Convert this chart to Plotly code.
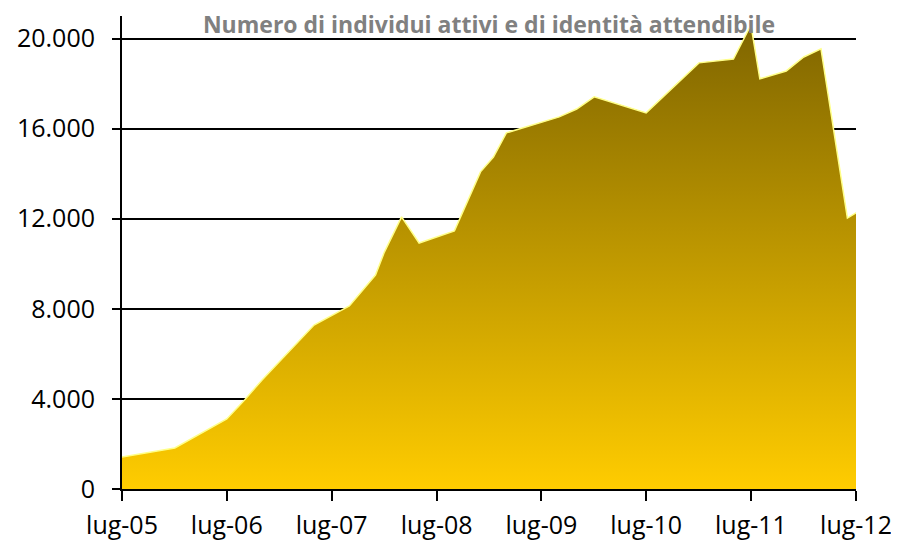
import plotly.graph_objects as go

dates = ["2005-07-01", "2006-01-01", "2006-07-01", "2006-09-01", "2006-11-01",
         "2007-05-01", "2007-09-01", "2007-12-01", "2008-01-01", "2008-03-01",
         "2008-05-01", "2008-09-01", "2008-12-01", "2009-01-15", "2009-03-01",
         "2009-09-01", "2009-11-01", "2010-01-01", "2010-07-01", "2011-01-01",
         "2011-05-01", "2011-07-01", "2011-08-01", "2011-11-01", "2012-01-01",
         "2012-03-01", "2012-06-01", "2012-07-01"]
individui = [1420, 1820, 3110, 3950, 4840,
             7280, 8130, 9500, 10520, 12080,
             10920, 11460, 14080, 14740, 15810,
             16520, 16870, 17410, 16700, 18920,
             19090, 20600, 18210, 18560, 19180,
             19540, 12030, 12260]

tick_dates = ["2005-07-01", "2006-07-01", "2007-07-01", "2008-07-01",
              "2009-07-01", "2010-07-01", "2011-07-01", "2012-07-01"]
tick_labels = ["lug-05", "lug-06", "lug-07", "lug-08",
               "lug-09", "lug-10", "lug-11", "lug-12"]
y_ticks = [0, 4000, 8000, 12000, 16000, 20000]
y_labels = ["0", "4.000", "8.000", "12.000", "16.000", "20.000"]

title_text = "Numero di individui attivi e di identità attendibile"

# page body has an 8px default margin, so the figure is sized to fit inside
W, H = 891, 539

fig = go.Figure()
fig.add_trace(go.Scatter(
    x=dates, y=individui, mode="lines", fill="tozeroy",
    line=dict(color="#FFFF88", width=1.5),
    fillgradient=dict(type="vertical",
                      colorscale=[[0, "#FFCC00"], [1, "#7F6500"]],
                      start=0, stop=max(individui)),
    hoverinfo="x+y", showlegend=False,
))

fig.update_layout(
    width=W, height=H,
    margin=dict(l=114, r=43, t=8, b=58),
    paper_bgcolor="white", plot_bgcolor="white",
    font=dict(family="Open Sans", size=25, color="black"),
    title=dict(text="<b>" + title_text + "</b>", x=0.5, xref="paper",
               y=1 - 17 / H, yref="container", yanchor="middle", xanchor="center",
               font=dict(family="Open Sans", size=23, color="#808080")),
)
fig.update_xaxes(
    type="date", range=["2005-07-01", "2012-07-01"],
    tickvals=tick_dates, ticktext=tick_labels,
    showgrid=False, showline=True, linecolor="black", linewidth=2,
    ticks="outside", ticklen=10, tickwidth=2, tickcolor="black",
    zeroline=False, automargin=False, ticklabelstandoff=3,
)
fig.update_yaxes(
    range=[0, 21000], tickvals=y_ticks, ticktext=y_labels,
    showgrid=True, gridcolor="black", gridwidth=2,
    showline=True, linecolor="black", linewidth=2,
    ticks="outside", ticklen=8, tickwidth=2, tickcolor="black",
    zeroline=False, ticklabelstandoff=12, automargin=False,
)

fig.write_html("out.html")
